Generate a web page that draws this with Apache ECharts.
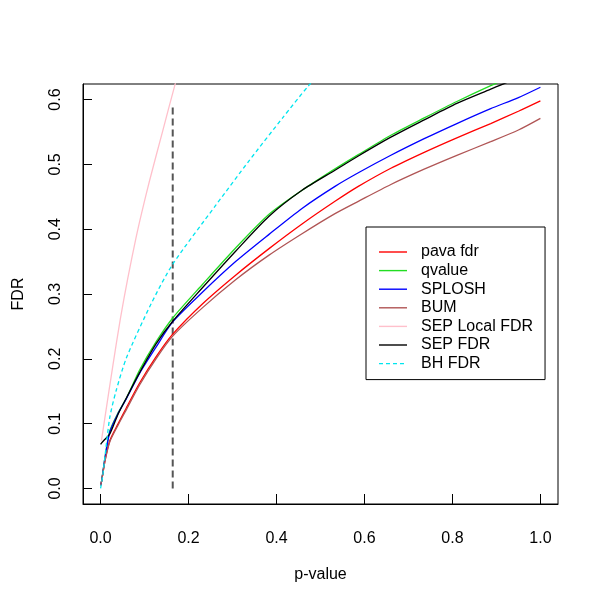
<!DOCTYPE html>
<html>
<head>
<meta charset="utf-8">
<script src="https://cdn.jsdelivr.net/npm/echarts@6/dist/echarts.min.js"></script>
<style>html,body{margin:0;padding:0;background:#fff}#c{width:600px;height:600px}</style>
</head>
<body>
<div id="c"></div>
<script>
// ---- data ----
const xMain = [0, 0.002, 0.01, 0.021, 0.04, 0.059, 0.089, 0.126, 0.164, 0.232, 0.307, 0.383, 0.458, 0.533, 0.586, 0.66, 0.737, 0.81, 0.887, 0.95, 1.0];
const pavaFdr = [0.005, 0.01, 0.043, 0.074, 0.1, 0.125, 0.163, 0.203, 0.238, 0.285, 0.329, 0.37, 0.408, 0.443, 0.466, 0.494, 0.519, 0.541, 0.563, 0.582, 0.598];
const qvalue  = [0.005, 0.01, 0.048, 0.089, 0.117, 0.14, 0.183, 0.226, 0.263, 0.315, 0.371, 0.423, 0.46, 0.493, 0.515, 0.545, 0.572, 0.597, 0.6215, 0.64, 0.655];
const splosh  = [0.005, 0.01, 0.047, 0.087, 0.116, 0.139, 0.178, 0.218, 0.257, 0.303, 0.35, 0.392, 0.432, 0.466, 0.487, 0.514, 0.54, 0.563, 0.586, 0.603, 0.619];
const bum     = [0.005, 0.01, 0.042, 0.072, 0.098, 0.122, 0.16, 0.2, 0.235, 0.279, 0.322, 0.36, 0.393, 0.424, 0.443, 0.469, 0.493, 0.514, 0.535, 0.553, 0.571];
const sepFdr  = [0.068, 0.07, 0.076, 0.084, 0.115, 0.14, 0.179, 0.223, 0.258, 0.31, 0.366, 0.42, 0.46, 0.491, 0.513, 0.542, 0.569, 0.594, 0.616, 0.634, 0.65];
const xLocal  = [0.002, 0.01, 0.028, 0.045, 0.062, 0.08, 0.093, 0.111, 0.141, 0.168, 0.185];
const sepLocalFdr = [0.074, 0.11, 0.19, 0.262, 0.325, 0.385, 0.424, 0.474, 0.551, 0.62, 0.66];
const xBH     = [0, 0.005, 0.01, 0.021, 0.035, 0.059, 0.115, 0.164, 0.262, 0.337, 0.413, 0.473, 0.5];
const bhFdr   = [0, 0.02, 0.05, 0.11, 0.15, 0.202, 0.285, 0.346, 0.437, 0.505, 0.571, 0.6215, 0.64];
const cutX = [0.164, 0.164];
const cutY = [0, 0.589];
const xTicks = [0, 0.2, 0.4, 0.6, 0.8, 1.0];
const yTicks = [0, 0.1, 0.2, 0.3, 0.4, 0.5, 0.6];
const names = ['pava fdr', 'qvalue', 'SPLOSH', 'BUM', 'SEP Local FDR', 'SEP FDR', 'BH FDR'];

const zip = (xs, ys) => xs.map((x, i) => [x, ys[i]]);
const FONT = 'Liberation Sans, Arial, sans-serif';
const SOLID = 'path://M0,0H28V1.4H0Z';
const DASHED = 'path://M0,0H4V1.4H0Z M7,0H11V1.4H7Z M14,0H18V1.4H14Z M21,0H25V1.4H21Z M28,0H28V1.4H28Z';

function ln(name, xs, ys, color, type) {
  return {
    name: name, type: 'line', data: zip(xs, ys), symbol: 'none', showSymbol: false,
    smooth: 0.25, clip: true, z: 3,
    lineStyle: { color: color, width: 1.3, type: type || 'solid' },
    itemStyle: { color: color }
  };
}

const chart = echarts.init(document.getElementById('c'), null, { renderer: 'canvas' });
chart.setOption({
  animation: false,
  backgroundColor: '#fff',
  textStyle: { fontFamily: FONT },
  grid: { left: 83, right: 42, top: 84, bottom: 96, show: true, borderColor: '#000', borderWidth: 1, backgroundColor: 'transparent' },
  xAxis: {
    type: 'value', min: -0.04, max: 1.04,
    name: 'p-value', nameLocation: 'middle', nameGap: 63,
    nameTextStyle: { fontSize: 16, color: '#000', fontFamily: FONT },
    axisLine: { show: true, onZero: false, lineStyle: { color: '#000', width: 1 } },
    axisTick: { show: true, length: 10, inside: true, customValues: xTicks, lineStyle: { color: '#000', width: 1 } },
    axisLabel: { customValues: xTicks, formatter: v => v.toFixed(1), fontSize: 16, color: '#000', margin: 27, fontFamily: FONT },
    splitLine: { show: false }
  },
  yAxis: {
    type: 'value', min: -0.024, max: 0.624,
    name: 'FDR', nameLocation: 'middle', nameGap: 56, nameRotate: 90,
    nameTextStyle: { fontSize: 16, color: '#000', fontFamily: FONT },
    axisLine: { show: true, onZero: false, lineStyle: { color: '#000', width: 1 } },
    axisTick: { show: true, length: 9, inside: true, customValues: yTicks, lineStyle: { color: '#000', width: 1 } },
    axisLabel: { customValues: yTicks, formatter: v => v.toFixed(1), fontSize: 16, color: '#000', margin: 19, rotate: 90, fontFamily: FONT },
    splitLine: { show: false }
  },
  legend: {
    orient: 'vertical', left: 366, top: 227,
    padding: [17, 12, 8, 13], itemWidth: 28, itemHeight: 1.4, itemGap: 2.6,
    borderColor: '#000', borderWidth: 1, backgroundColor: '#fff',
    textStyle: { fontSize: 16, color: '#000', lineHeight: 16, fontFamily: FONT, padding: [0, 0, 0, 9] },
    selectedMode: false,
    data: names.map(n => ({ name: n, icon: n === 'BH FDR' ? DASHED : SOLID }))
  },
  series: [
    ln('pava fdr', xMain, pavaFdr, '#ff0000'),
    ln('qvalue', xMain, qvalue, '#22dd22'),
    ln('SPLOSH', xMain, splosh, '#0000ff'),
    ln('BUM', xMain, bum, '#b05555'),
    ln('SEP Local FDR', xLocal, sepLocalFdr, '#ffc0cb'),
    ln('SEP FDR', xMain, sepFdr, '#000000'),
    ln('BH FDR', xBH, bhFdr, '#00e5ee', [4, 3]),
    {
      name: 'cut', type: 'line', data: zip(cutX, cutY), symbol: 'none', z: 2,
      lineStyle: { color: '#555', width: 2, type: [7, 4] }, itemStyle: { color: '#555' }
    }
  ]
});
</script>
</body>
</html>
